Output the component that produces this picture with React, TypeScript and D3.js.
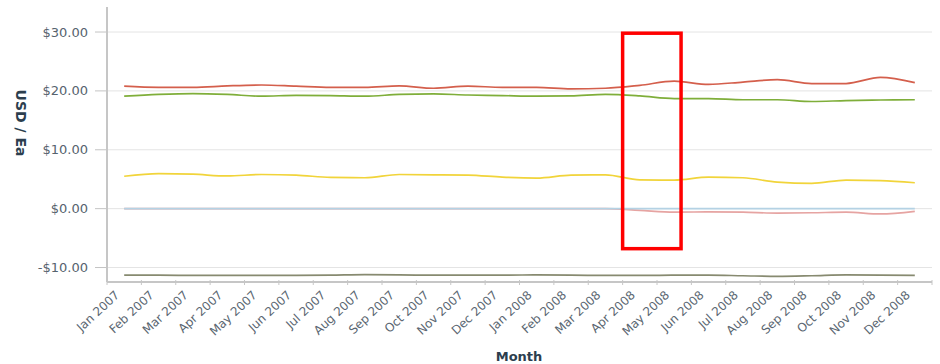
import React from "react";
import * as d3 from "d3";

// Monthly unit prices (USD / Ea)
const months = [
  "Jan 2007", "Feb 2007", "Mar 2007", "Apr 2007", "May 2007", "Jun 2007",
  "Jul 2007", "Aug 2007", "Sep 2007", "Oct 2007", "Nov 2007", "Dec 2007",
  "Jan 2008", "Feb 2008", "Mar 2008", "Apr 2008", "May 2008", "Jun 2008",
  "Jul 2008", "Aug 2008", "Sep 2008", "Oct 2008", "Nov 2008", "Dec 2008",
];

const redSeries = [
  20.8, 20.6, 20.6, 20.85, 21.0, 20.8, 20.6, 20.6, 20.85, 20.45, 20.8, 20.6,
  20.6, 20.35, 20.45, 20.95, 21.65, 21.1, 21.5, 21.9, 21.25, 21.25, 22.3, 21.4,
];
const greenSeries = [
  19.1, 19.4, 19.55, 19.4, 19.1, 19.25, 19.2, 19.1, 19.4, 19.5, 19.3, 19.2,
  19.1, 19.15, 19.4, 19.15, 18.7, 18.7, 18.5, 18.5, 18.2, 18.35, 18.45, 18.5,
];
const yellowSeries = [
  5.5, 5.95, 5.85, 5.55, 5.8, 5.7, 5.3, 5.25, 5.8, 5.75, 5.7, 5.35,
  5.2, 5.7, 5.75, 4.9, 4.85, 5.35, 5.25, 4.5, 4.3, 4.85, 4.75, 4.4,
];
const pinkSeries = [
  0, 0, 0, 0, 0, 0, 0, 0, 0, 0, 0, 0,
  0, 0, 0, -0.3, -0.6, -0.55, -0.6, -0.75, -0.7, -0.6, -0.9, -0.45,
];
const blueSeries = [
  0, 0, 0, 0, 0, 0, 0, 0, 0, 0, 0, 0,
  0, 0, 0, 0, 0, 0, 0, 0, 0, 0, 0, 0,
];
const graySeries = [
  -11.3, -11.3, -11.35, -11.35, -11.35, -11.35, -11.3, -11.2, -11.25, -11.3, -11.3, -11.3,
  -11.25, -11.3, -11.35, -11.35, -11.3, -11.3, -11.4, -11.5, -11.4, -11.25, -11.3, -11.35,
];

const yTicks = [30, 20, 10, 0, -10];
const yMin = -12.46;
const yMax = 34.25;

// Highlighted window
const highlightFrom = "Apr 2008";
const highlightTo = "May 2008";
const highlightTop = 29.8;
const highlightBottom = -6.8;

const W = 940;
const H = 364;
const left = 107;
const right = 932;
const top = 7;
const bottom = 282;

const fmt = (v: number) => (v < 0 ? "-$" : "$") + Math.abs(v).toFixed(2);

export default function App() {
  const x = d3.scaleBand<string>().domain(months).range([left, right]).padding(0);
  const y = d3.scaleLinear().domain([yMin, yMax]).range([bottom, top]);
  const cx = (m: string) => (x(m) as number) + x.bandwidth() / 2;

  const line = d3
    .line<number>()
    .x((_, i) => cx(months[i]))
    .y((v) => y(v))
    .curve(d3.curveMonotoneX);

  const series = [
    { values: graySeries, color: "#878a70" },
    { values: pinkSeries, color: "#e6a4a2" },
    { values: blueSeries, color: "#b4d2e4" },
    { values: yellowSeries, color: "#f1d43a" },
    { values: greenSeries, color: "#7fae3a" },
    { values: redSeries, color: "#d45f4c" },
  ];

  const boundaries = months.map((m) => x(m) as number).concat([right]);

  const hx0 = x(highlightFrom) as number;
  const hx1 = (x(highlightTo) as number) + x.bandwidth() * 0.7;
  const hy0 = y(highlightTop);
  const hy1 = y(highlightBottom);

  const font = "'DejaVu Sans', Verdana, sans-serif";

  return (
    <svg
      width={W}
      height={H}
      style={{ position: "absolute", left: 0, top: 0, background: "#fff" }}
      fontFamily={font}
    >
      {/* horizontal grid */}
      {yTicks.map((t) => (
        <line key={"g" + t} x1={left} x2={right} y1={y(t)} y2={y(t)} stroke="#e4e4e4" strokeWidth={1} />
      ))}
      {/* y ticks and labels */}
      {yTicks.map((t) => (
        <g key={"t" + t}>
          <line x1={95} x2={left} y1={y(t)} y2={y(t)} stroke="#c4c4c4" strokeWidth={1} />
          <text x={88} y={y(t)} dy="0.35em" textAnchor="end" fontSize={13} fill="#56636e">
            {fmt(t)}
          </text>
        </g>
      ))}
      {/* axes */}
      <line x1={left} x2={left} y1={top} y2={bottom} stroke="#c6c6c6" strokeWidth={2} />
      <line x1={left} x2={right} y1={bottom} y2={bottom} stroke="#c6c6c6" strokeWidth={2} />
      {boundaries.map((bx, i) => (
        <line key={"xt" + i} x1={bx} x2={bx} y1={bottom - 2} y2={bottom + 3} stroke="#c6c6c6" strokeWidth={1} />
      ))}
      {/* series */}
      {series.map((s, i) => (
        <path key={"s" + i} d={line(s.values) || ""} fill="none" stroke={s.color} strokeWidth={1.7} />
      ))}
      {/* x labels */}
      {months.map((m) => (
        <text
          key={m}
          transform={`translate(${cx(m) - 4},${bottom + 14}) rotate(-43)`}
          textAnchor="end"
          fontSize={12}
          fill="#5a6671"
        >
          {m}
        </text>
      ))}
      {/* axis titles */}
      <text
        transform={`translate(16,123) rotate(90)`}
        textAnchor="middle"
        fontSize={14}
        fontWeight="bold"
        fill="#2c3e4e"
      >
        USD / Ea
      </text>
      <text x={519} y={361} textAnchor="middle" fontSize={13} fontWeight="bold" fill="#2c3e4e">
        Month
      </text>
      {/* highlight box */}
      <rect
        x={hx0}
        y={hy0}
        width={hx1 - hx0}
        height={hy1 - hy0}
        fill="none"
        stroke="#ff0000"
        strokeWidth={3.5}
      />
    </svg>
  );
}
